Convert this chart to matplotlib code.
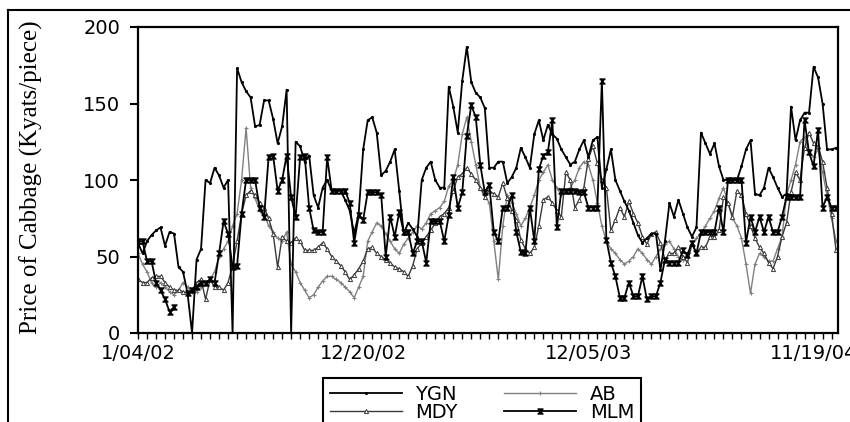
import numpy as np
import pandas as pd
import matplotlib
matplotlib.use("Agg")
import matplotlib.pyplot as plt
from matplotlib.lines import Line2D
from matplotlib.path import Path

nan = np.nan
start_date = "2002-01-04"
n_weeks = 156
tick_labels = {0: "1/04/02", 50: "12/20/02", 100: "12/05/03", 150: "11/19/04"}
series_names = ["YGN", "AB", "MDY", "MLM"]

ygn = [59, 52, 60, 64, 67, 69, 57, 66, 65, 43,
       40, 26, 0, 48, 55, 100, 98, 108, 103, 95,
       100, 0, 173, 164, 158, 154, 135, 136, 152, 152,
       140, 124, 135, 159, 0, 125, 122, 112, 116, 90,
       82, 95, 100, 93, 93, 93, 87, 80, 65, 78,
       120, 139, 141, 131, 103, 106, 112, 120, 93, 65,
       72, 68, 63, 100, 108, 112, 100, 95, 95, 161,
       148, 131, 165, 187, 164, 157, 154, 147, 108, 108,
       112, 112, 98, 102, 108, 121, 115, 108, 130, 139,
       126, 136, 130, 127, 120, 115, 110, 112, 120, 126,
       115, 126, 128, 95, 107, 120, 100, 93, 86, 80,
       72, 64, 59, 62, 65, 65, 41, 60, 85, 76,
       87, 78, 69, 63, 69, 131, 124, 117, 124, 109,
       100, 100, 100, 100, 109, 120, 126, 91, 90, 95,
       108, 102, 95, 89, 91, 148, 126, 139, 144, 144,
       174, 167, 150, 120, 120, 121]

ab = [52, 45, 40, 33, 30, 33, 30, 27, 25, 28,
      33, 30, 27, 27, 30, 33, 35, 40, 50, 55,
      60, 70, 78, 100, 134, 95, 88, 80, 78, 70,
      66, 62, 60, 66, 45, 40, 33, 28, 23, 25,
      30, 34, 37, 37, 35, 33, 30, 27, 23, 30,
      37, 60, 66, 72, 70, 65, 60, 55, 52, 58,
      62, 66, 70, 68, 72, 78, 80, 82, 86, 96,
      100, 110, 130, 141, 125, 110, 95, 90, 85, 60,
      35, 70, 90, 85, 78, 70, 75, 82, 90, 100,
      105, 110, 100, 95, 90, 92, 95, 100, 108, 112,
      110, 100, 85, 70, 60, 55, 52, 48, 45, 47,
      50, 55, 52, 48, 45, 50, 55, 58, 60, 55,
      50, 48, 52, 58, 62, 65, 70, 75, 80, 88,
      95, 85, 75, 70, 62, 45, 26, 45, 52, 50,
      47, 47, 55, 63, 90, 100, 110, 125, 128, 118,
      115, 120, 105, 90, 75, 60]

mdy = [35, 33, 33, 36, 37, 37, 33, 30, 28, 28,
       27, 26, 28, 33, 35, 22, 35, 30, 30, 28,
       33, 44, 60, 78, 90, 93, 90, 85, 82, 75,
       65, 43, 63, 60, 59, 62, 60, 54, 54, 54,
       56, 59, 55, 50, 47, 44, 40, 35, 38, 42,
       47, 55, 56, 52, 50, 48, 46, 43, 42, 40,
       37, 44, 55, 59, 63, 67, 72, 76, 78, 82,
       93, 102, 104, 108, 104, 100, 95, 89, 93, 91,
       89, 98, 88, 80, 74, 61, 55, 52, 56, 70,
       87, 89, 85, 80, 76, 105, 100, 82, 87, 95,
       114, 122, 111, 100, 95, 67, 74, 82, 76, 86,
       78, 72, 63, 58, 65, 66, 59, 48, 52, 52,
       56, 50, 46, 58, 52, 56, 56, 63, 63, 67,
       89, 85, 76, 93, 90, 78, 70, 62, 56, 52,
       46, 42, 50, 63, 72, 92, 105, 100, 121, 131,
       124, 122, 112, 95, 78, 54]

mlm = [60, 60, 47, 47, 33, 28, 22, 14, 17, nan,
       nan, 26, 28, 30, 33, 33, 35, 33, 52, 73,
       65, 43, 44, 78, 100, 100, 100, 82, 76, 115,
       116, 93, 100, 116, 89, 76, 115, 116, 82, 67,
       66, 66, 115, 93, 93, 93, 93, 85, 59, 77,
       74, 92, 92, 92, 90, 50, 76, 63, 79, 66,
       66, 52, 60, 60, 46, 73, 73, 73, 60, 77,
       102, 82, 92, 129, 149, 141, 110, 92, 97, 66,
       60, 82, 82, 90, 66, 53, 52, 82, 60, 107,
       116, 118, 139, 69, 93, 93, 93, 93, 92, 92,
       82, 82, 82, 165, 61, 46, 37, 23, 23, 33,
       24, 24, 37, 22, 24, 24, 33, 48, 46, 46,
       46, 54, 51, 59, 52, 66, 66, 66, 66, 82,
       66, 100, 100, 100, 100, 59, 76, 66, 76, 66,
       76, 66, 66, 76, 89, 89, 89, 89, 139, 118,
       109, 133, 82, 89, 82, 82]

dates = pd.date_range(start_date, periods=n_weeks, freq="7D")

W, H = 850, 422
fig = plt.figure(figsize=(W / 100, H / 100), dpi=100)
ax = fig.add_axes([138 / W, (H - 333) / H, 700 / W, 306 / H])

hourglass = Path([(-1, 1), (1, 1), (0, 0), (1, -1), (-1, -1), (0, 0), (-1, 1)],
                 [Path.MOVETO, Path.LINETO, Path.LINETO, Path.LINETO,
                  Path.LINETO, Path.LINETO, Path.CLOSEPOLY])

l_ab, = ax.plot(dates, ab, color="#808080", lw=1.0, marker="+", ms=3, mew=0.8,
                label="AB")
l_mdy, = ax.plot(dates, mdy, color="#3a3a3a", lw=1.0, marker="^", ms=3,
                 mfc="white", mec="#3a3a3a", mew=0.7, label="MDY")
l_ygn, = ax.plot(dates, ygn, color="black", lw=1.3, marker=".", ms=2.5,
                 label="YGN")
l_mlm, = ax.plot(dates, mlm, color="black", lw=1.3, marker=hourglass, ms=3.6,
                 mfc="black", mec="black", label="MLM")

ax.set_ylim(0, 200)
ax.set_xlim(dates[0], dates[-1] + pd.Timedelta(days=3))
ax.set_yticks([0, 50, 100, 150, 200])

xt = dates[::2]
xl = [tick_labels.get(i, "") for i in range(0, n_weeks, 2)]
ax.set_xticks(xt)
ax.set_xticklabels(xl)

for s in ax.spines.values():
    s.set_linewidth(1.6)
ax.tick_params(axis="y", direction="out", length=5.8, width=1.5, pad=7,
               labelsize=14)
ax.tick_params(axis="x", direction="out", length=4, width=1.0, pad=4,
               labelsize=14)
for t in ax.get_xticklabels() + ax.get_yticklabels():
    t.set_family("DejaVu Sans")

fig.text(31 / W, 1 - 177 / H, "Price of Cabbage (Kyats/piece)", rotation=90,
         va="center", ha="center", family="Liberation Serif", fontsize=18)

leg = ax.legend(handles=[l_ygn, l_mdy, l_ab, l_mlm], loc="upper left",
                bbox_to_anchor=(323 / W, 1 - 378 / H),
                bbox_transform=fig.transFigure, ncol=2, fontsize=14,
                handlelength=3.7, handletextpad=0.7, columnspacing=2.4,
                labelspacing=-0.05, borderpad=0.35, borderaxespad=0,
                frameon=True, fancybox=False, edgecolor="black",
                framealpha=1)
leg.get_frame().set_linewidth(1.5)
for t in leg.get_texts():
    t.set_family("DejaVu Sans")

fig.add_artist(Line2D([8 / W, 1.0], [1 - 10 / H, 1 - 10 / H],
                      transform=fig.transFigure, color="black", lw=1.5))
fig.add_artist(Line2D([8 / W, 8 / W], [0, 1 - 10 / H],
                      transform=fig.transFigure, color="black", lw=1.5))

fig.savefig("out.png", dpi=100)
